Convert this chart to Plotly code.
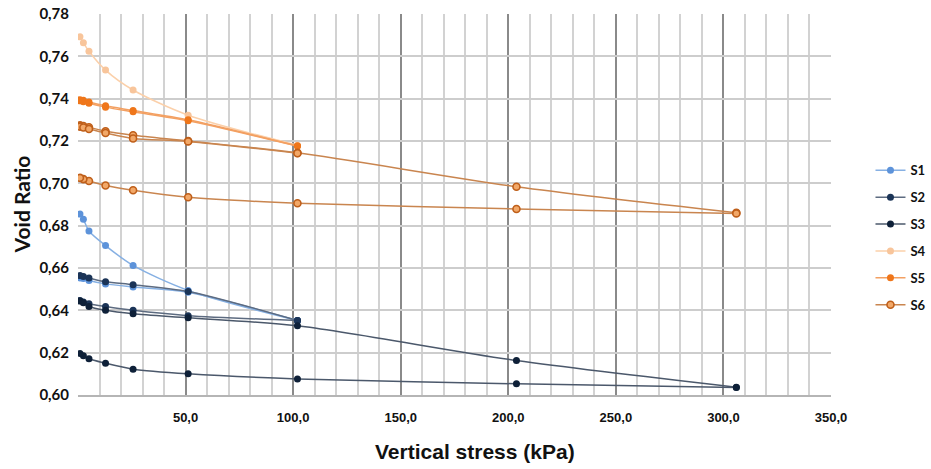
import plotly.graph_objects as go

# Vertical stress steps (kPa)
stress = [0.9, 2.5, 5.1, 12.8, 25.6, 51.2, 102.0, 203.8, 306.0]

# Void ratio readings, loading and unloading branches
s1_load = [0.6855, 0.6830, 0.6775, 0.6706, 0.6612, 0.6494, 0.6352]
s1_unload = [0.6352, 0.6485, 0.6510, 0.6525, 0.6541, 0.6550, 0.6553]          # 102 -> 0.9

s2_load = [0.6564, 0.6560, 0.6553, 0.6535, 0.6521, 0.6489, 0.6352]
s2_unload = [0.6352, 0.6375, 0.6400, 0.6418, 0.6431, 0.6439, 0.6447]          # 102 -> 0.9

s3_load = [0.6444, 0.6436, 0.6418, 0.6400, 0.6384, 0.6365, 0.6327, 0.6163, 0.6037]
s3_unload = [0.6035, 0.6053, 0.6076, 0.6100, 0.6122, 0.6150, 0.6171, 0.6186, 0.6196]  # 306 -> 0.9

s4_load = [0.7692, 0.7664, 0.7624, 0.7535, 0.7441, 0.7322, 0.7180]

s5_load = [0.7395, 0.7392, 0.7384, 0.7366, 0.7344, 0.7300, 0.7176]
s5_unload = [0.7176, 0.7296, 0.7338, 0.7360, 0.7378, 0.7386, 0.7390]          # 102 -> 0.9

s6_load = [0.7274, 0.7271, 0.7265, 0.7246, 0.7227, 0.7200, 0.7144, 0.6984, 0.6861]
s6_unload = [0.6858, 0.6879, 0.6906, 0.6934, 0.6967, 0.6990, 0.7011, 0.7020, 0.7026]  # 306 -> 0.9
s6_reload = [0.7268, 0.7264, 0.7257, 0.7238, 0.7212, 0.7198, 0.7142]

names = ["S1", "S2", "S3", "S4", "S5", "S6"]
x_ticks = [50, 100, 150, 200, 250, 300, 350]
y_ticks = [0.60, 0.62, 0.64, 0.66, 0.68, 0.70, 0.72, 0.74, 0.76, 0.78]


def path(*branches):
    xs, ys = [], []
    for i, (bx, by) in enumerate(branches):
        if i:
            xs.append(None)
            ys.append(None)
        xs += list(bx)
        ys += list(by)
    return xs, ys


def rev(n):
    return stress[:n][::-1]


series = [
    path((stress[:7], s1_load), (rev(7), s1_unload)),
    path((stress[:7], s2_load), (rev(7), s2_unload)),
    path((stress, s3_load), (rev(9), s3_unload)),
    path((stress[:7], s4_load)),
    path((stress[:7], s5_load), (rev(7), s5_unload)),
    path((stress, s6_load), (rev(9), s6_unload), (stress[:7], s6_reload)),
]

line_colors = ["#86b0e3", "#5d6b80", "#4b586b", "#fbd0aa", "#f3a062", "#c9854f"]
marker_colors = ["#5d93da", "#1b3457", "#0e2038", "#f8c59b", "#ef761a", "#f2a868"]
marker_lines = ["#5d93da", "#1b3457", "#0e2038", "#f8c59b", "#ef761a", "#bf5f1a"]

fig = go.Figure()
for i, (xs, ys) in enumerate(series):
    fig.add_trace(go.Scatter(
        x=xs, y=ys, name=names[i], mode="lines+markers",
        connectgaps=False,
        line=dict(color=line_colors[i], width=1.5, shape="spline", smoothing=0.8),
        marker=dict(size=7, color=marker_colors[i],
                    line=dict(color=marker_lines[i], width=1.6 if i == 5 else 0)),
        legendgroup=names[i],
    ))

fig.update_layout(
    width=931, height=469,
    margin=dict(l=78, r=100, t=14, b=74, autoexpand=False),
    paper_bgcolor="white", plot_bgcolor="white",
    separators=", ",
    showlegend=True,
    legend=dict(xref="container", yref="container", x=0.935, xanchor="left",
                y=0.493, yanchor="middle",
                font=dict(family="Lato, Open Sans, sans-serif", size=13, color="#111", weight="bold"),
                traceorder="grouped", tracegroupgap=7, itemwidth=30,
                bgcolor="rgba(0,0,0,0)"),
    xaxis=dict(range=[0, 350], tickmode="array", tickvals=x_ticks,
               tickformat=".1f", showgrid=True, gridcolor="#8a8a8a", gridwidth=2,
               zeroline=False, showline=True, linecolor="#b5b5b5", linewidth=1.5,
               ticks="", ticklabelstandoff=10, ticklabeloverflow="allow",
               tickfont=dict(family="Liberation Sans Narrow, Liberation Sans, sans-serif",
                             size=13, color="#111", weight="bold"),
               minor=dict(tickmode="array", tickvals=list(range(0, 351, 10)),
                          showgrid=True, gridcolor="#d2d2d2", gridwidth=1.6),
               fixedrange=True),
    yaxis=dict(range=[0.60, 0.78], tickmode="array", tickvals=y_ticks,
               tickformat=".2f", showgrid=True, gridcolor="#cdcdcd", gridwidth=1.8,
               zeroline=False, showline=False, ticks="", ticklabelstandoff=8,
               ticklabeloverflow="allow",
               tickfont=dict(family="Lato, Open Sans, sans-serif", size=15, color="#111", weight="bold"),
               fixedrange=True),
    annotations=[
        dict(text="Vertical stress (kPa)", xref="paper", yref="paper",
             x=0.527, y=-0.148, xanchor="center", yanchor="middle", showarrow=False,
             font=dict(family="Liberation Sans Narrow, Liberation Sans, sans-serif",
                       size=21, color="#111", weight="bold")),
        dict(text="Void Ratio", xref="paper", yref="paper",
             x=-0.0745, y=0.5, xanchor="center", yanchor="middle", showarrow=False,
             textangle=-90,
             font=dict(family="Lato, Open Sans, sans-serif", size=21, color="#111", weight="bold")),
    ],
)

# Remove the browser's default 8 px body margin so the figure fills the window.
fig.write_html("out.html", config={"displayModeBar": False},
               post_script="document.body.style.margin='0px';")
